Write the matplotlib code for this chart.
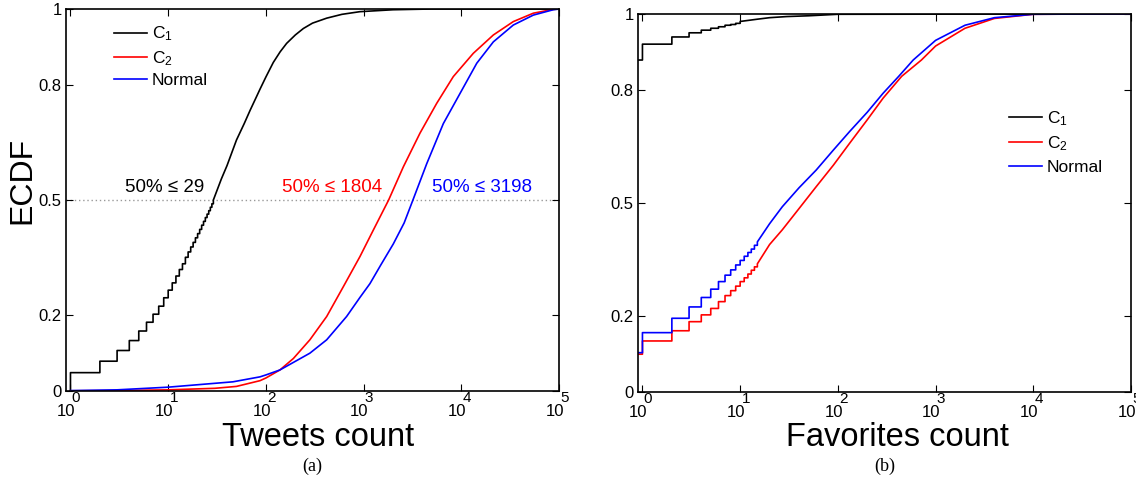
import numpy as np
import matplotlib
matplotlib.use("Agg")
import matplotlib.pyplot as plt
from matplotlib.ticker import FixedLocator, NullFormatter

plt.rcParams['font.family'] = ['Liberation Sans', 'DejaVu Sans']
plt.rcParams['mathtext.fontset'] = 'custom'
plt.rcParams['mathtext.rm'] = 'Liberation Sans'
plt.rcParams['mathtext.it'] = 'Liberation Sans:italic'

# ---------------- data: (a) Tweets count ----------------
tw_c1_x = [1, 2, 3, 4, 5, 6, 7, 8, 9, 10, 11, 12, 13, 14, 15, 16, 17, 18, 19, 20,
           21, 22, 23, 24, 25, 26, 27, 28, 29, 35, 40, 50, 60, 69, 80, 87, 100,
           119, 140, 163, 200, 242, 300, 419, 600, 918, 2000, 5000, 100000]
tw_c1_y = [0.048, 0.078, 0.106, 0.132, 0.157, 0.180, 0.201, 0.222, 0.244, 0.264,
           0.283, 0.301, 0.318, 0.333, 0.350, 0.364, 0.377, 0.389, 0.401, 0.412,
           0.423, 0.434, 0.444, 0.454, 0.463, 0.472, 0.481, 0.490, 0.500, 0.555,
           0.59, 0.657, 0.70, 0.735, 0.77, 0.79, 0.822, 0.86, 0.888, 0.910, 0.932,
           0.949, 0.963, 0.976, 0.986, 0.993, 0.998, 1.0, 1.0]
tw_c1_nsteps = 28

tw_c2_x = [1, 3, 10, 30, 50, 87, 100, 139, 191, 282, 419, 620, 918, 1256, 1804,
           2553, 3776, 5598, 8279, 13270, 21280, 34040, 54580, 87100, 100000]
tw_c2_y = [0.0005, 0.001, 0.003, 0.007, 0.012, 0.027, 0.034, 0.055, 0.085, 0.134,
           0.195, 0.273, 0.352, 0.421, 0.500, 0.587, 0.675, 0.753, 0.823, 0.884,
           0.932, 0.967, 0.989, 0.999, 1.0]

tw_n_x = [1, 3, 10, 46, 87, 100, 139, 282, 419, 670, 918, 1161, 1500, 2014, 2600,
          3198, 4426, 6546, 9705, 14390, 21280, 34040, 54580, 87100, 100000]
tw_n_y = [0.001, 0.003, 0.010, 0.024, 0.037, 0.042, 0.055, 0.099, 0.134, 0.195,
          0.245, 0.281, 0.330, 0.385, 0.440, 0.500, 0.595, 0.700, 0.779, 0.858,
          0.914, 0.958, 0.984, 0.998, 1.0]

tw_medians = {"C1": 29, "C2": 1804, "Normal": 3198}

# ---------------- data: (b) Favorites count ----------------
fav_c1_x = [0, 1, 2, 3, 4, 5, 6, 7, 8, 9, 10, 15, 20, 30, 50, 100, 100000]
fav_c1_y = [0.878, 0.920, 0.939, 0.950, 0.957, 0.962, 0.966, 0.970, 0.972, 0.975,
            0.980, 0.986, 0.990, 0.993, 0.995, 0.999, 1.0]
fav_c1_nsteps = 10

fav_c2_x = [0, 1, 2, 3, 4, 5, 6, 7, 8, 9, 10, 11, 12, 13, 14, 15, 20, 27, 40, 60,
            90, 132, 200, 290, 450, 716, 1000, 2000, 4000, 10000, 100000]
fav_c2_y = [0.100, 0.135, 0.162, 0.186, 0.204, 0.221, 0.239, 0.255, 0.268, 0.280,
            0.292, 0.302, 0.312, 0.322, 0.331, 0.339, 0.39, 0.429, 0.485, 0.543,
            0.60, 0.658, 0.72, 0.777, 0.835, 0.878, 0.915, 0.962, 0.988, 0.999, 1.0]

fav_n_x = [0, 1, 2, 3, 4, 5, 6, 7, 8, 9, 10, 11, 12, 13, 14, 15, 20, 27, 40, 60,
           90, 132, 200, 290, 420, 590, 1000, 2000, 4000, 10000, 100000]
fav_n_y = [0.104, 0.157, 0.195, 0.225, 0.250, 0.272, 0.292, 0.309, 0.323, 0.336,
           0.348, 0.359, 0.369, 0.378, 0.388, 0.397, 0.445, 0.49, 0.54, 0.587,
           0.64, 0.689, 0.74, 0.79, 0.835, 0.878, 0.93, 0.97, 0.99, 0.999, 1.0]
fav_nsteps = 15

series_labels = [r"C$_{1}$", r"C$_{2}$", "Normal"]
series_colors = ["black", "red", "blue"]

y_ticks = [0, 0.2, 0.5, 0.8, 1]
y_ticklabels = ["0", "0.2", "0.5", "0.8", "1"]
x_ticks = [1, 10, 100, 1000, 10000, 100000]
x_tick_exponents = ["0", "1", "2", "3", "4", "5"]

XMIN, XMAX = 0.9, 1e5


def stair_path(xs, ys, nsteps, start_zero=False):
    xs = [max(v, XMIN) for v in xs]
    px, py = [], []
    if start_zero:
        px.append(xs[0]); py.append(0.0)
    for i in range(len(xs)):
        px.append(xs[i]); py.append(ys[i])
        if i < nsteps and i + 1 < len(xs):
            px.append(xs[i + 1]); py.append(ys[i])
    return px, py


fig = plt.figure(figsize=(11.36, 4.86), dpi=100)
ax1 = fig.add_axes([0.0581, 0.1955, 0.434, 0.786])
ax2 = fig.add_axes([0.5616, 0.1934, 0.434, 0.778])

lw = 1.2
# panel (a)
x, y = stair_path(tw_c1_x, tw_c1_y, tw_c1_nsteps, start_zero=True)
ax1.plot(x, y, color=series_colors[0], lw=lw, label=series_labels[0])
ax1.plot(tw_c2_x, tw_c2_y, color=series_colors[1], lw=lw, label=series_labels[1])
ax1.plot(tw_n_x, tw_n_y, color=series_colors[2], lw=lw, label=series_labels[2])
ax1.axhline(0.5, color="#999999", lw=1.0, ls=(0, (1, 2)), zorder=0)

# panel (b)
x, y = stair_path(fav_c1_x, fav_c1_y, fav_c1_nsteps)
ax2.plot(x, y, color=series_colors[0], lw=lw, label=series_labels[0])
x, y = stair_path(fav_c2_x, fav_c2_y, fav_nsteps)
ax2.plot(x, y, color=series_colors[1], lw=lw, label=series_labels[1])
x, y = stair_path(fav_n_x, fav_n_y, fav_nsteps)
ax2.plot(x, y, color=series_colors[2], lw=lw, label=series_labels[2])

for ax in (ax1, ax2):
    ax.set_xscale("log")
    ax.set_xlim(XMIN, XMAX)
    ax.set_ylim(0, 1)
    ax.xaxis.set_major_locator(FixedLocator(x_ticks))
    ax.xaxis.set_minor_locator(FixedLocator([]))
    ax.xaxis.set_major_formatter(NullFormatter())
    ax.set_yticks(y_ticks)
    ax.set_yticklabels(y_ticklabels)
    ax.tick_params(direction="in", top=True, right=True, length=5, width=0.8,
                   labelsize=12, pad=3)
    for s in ax.spines.values():
        s.set_linewidth(1.2)
    # MATLAB-style "10^k" tick labels: base below-left, exponent raised to the right
    for t, e in zip(x_ticks, x_tick_exponents):
        ax.annotate("10", xy=(t, 0), xycoords=("data", "axes fraction"),
                    xytext=(-3.0, -15.0), textcoords="offset points",
                    ha="center", va="center", fontsize=12, annotation_clip=False)
        ax.annotate(e, xy=(t, 0), xycoords=("data", "axes fraction"),
                    xytext=(4.0, -5.0), textcoords="offset points",
                    ha="center", va="center", fontsize=11, annotation_clip=False)

ax1.set_ylabel("ECDF", fontsize=23)
ax1.yaxis.set_label_coords(-0.058, 0.55)
ax1.set_xlabel("Tweets count", fontsize=23.5)
ax1.xaxis.set_label_coords(0.511, -0.08)
ax2.set_xlabel("Favorites count", fontsize=23.5)
ax2.xaxis.set_label_coords(0.527, -0.08)

fig.text(0.2745, 0.041, "(a)", fontsize=13, family="Liberation Serif", ha="center", va="center")
fig.text(0.7785, 0.041, "(b)", fontsize=13, family="Liberation Serif", ha="center", va="center")

ax1.legend(loc="upper left", bbox_to_anchor=(0.065, 1.0), frameon=False, fontsize=12.5,
           handlelength=1.9, handletextpad=0.3, labelspacing=0.32)
ax2.legend(loc="upper left", bbox_to_anchor=(0.72, 0.79), frameon=False, fontsize=12.5,
           handlelength=1.9, handletextpad=0.3, labelspacing=0.4)

ax1.text(3.6, 0.52, "50% \u2264 {}".format(tw_medians["C1"]), color="black", fontsize=13.5)
ax1.text(146, 0.52, "50% \u2264 {}".format(tw_medians["C2"]), color="red", fontsize=13.5)
ax1.text(5000, 0.52, "50% \u2264 {}".format(tw_medians["Normal"]), color="blue", fontsize=13.5)

fig.savefig("out.png", dpi=100)
